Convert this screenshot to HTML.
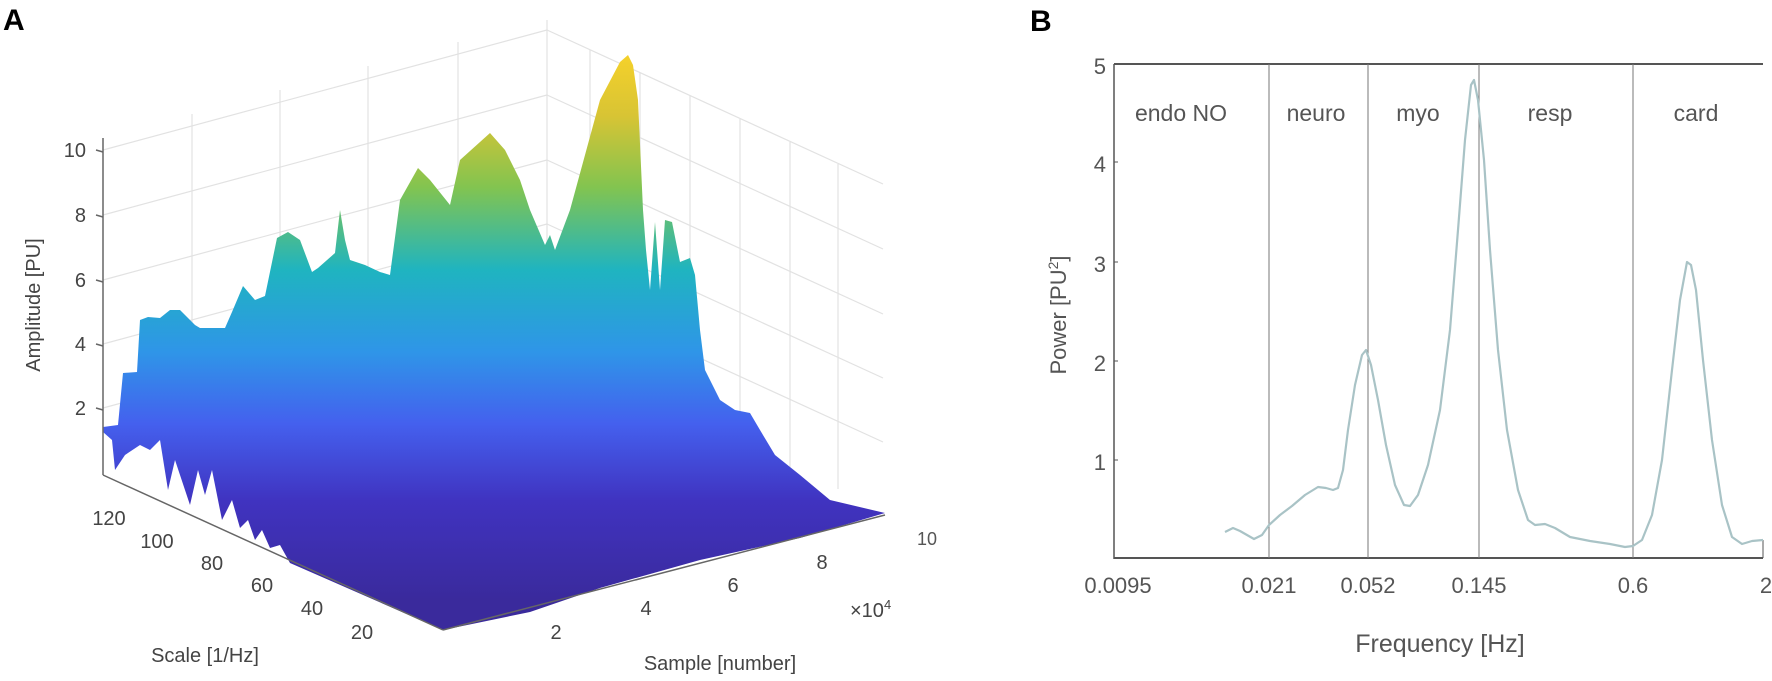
<!DOCTYPE html>
<html><head><meta charset="utf-8"><style>
html,body{margin:0;padding:0;background:#fff;}
svg{display:block;}
text{font-family:"Liberation Sans",sans-serif;}
</style></head><body>
<svg width="1772" height="681" viewBox="0 0 1772 681" xmlns="http://www.w3.org/2000/svg">
<defs>
<linearGradient id="parula" gradientUnits="userSpaceOnUse" x1="0" y1="50" x2="0" y2="600">
<stop offset="0" stop-color="#f7d22a"/>
<stop offset="0.12" stop-color="#d8c434"/>
<stop offset="0.25" stop-color="#82c450"/>
<stop offset="0.4" stop-color="#1fb4c0"/>
<stop offset="0.55" stop-color="#2f95e8"/>
<stop offset="0.68" stop-color="#4460ee"/>
<stop offset="0.82" stop-color="#4033c0"/>
<stop offset="1" stop-color="#3a2a9c"/>
</linearGradient>
</defs>
<!-- Panel A labels -->
<text x="3" y="30" font-size="30" font-weight="bold" fill="#000">A</text>
<!-- back grid left wall -->
<g stroke="#e2e2e2" stroke-width="1.2" fill="none">
<line x1="103" y1="408" x2="547" y2="288"/>
<line x1="103" y1="344" x2="547" y2="224"/>
<line x1="103" y1="280" x2="547" y2="160"/>
<line x1="103" y1="215" x2="547" y2="95"/>
<line x1="103" y1="150" x2="547" y2="30"/>
<line x1="192" y1="451" x2="192" y2="114"/>
<line x1="280" y1="427" x2="280" y2="90"/>
<line x1="368" y1="403" x2="368" y2="66"/>
<line x1="458" y1="379" x2="458" y2="42"/>
<line x1="547" y1="355" x2="547" y2="20"/>
<line x1="547" y1="288" x2="883" y2="442"/>
<line x1="547" y1="224" x2="883" y2="378"/>
<line x1="547" y1="160" x2="883" y2="314"/>
<line x1="547" y1="95" x2="883" y2="249"/>
<line x1="547" y1="30" x2="883" y2="184"/>
<line x1="590" y1="375" x2="590" y2="50"/>
<line x1="640" y1="398" x2="640" y2="73"/>
<line x1="690" y1="421" x2="690" y2="96"/>
<line x1="740" y1="444" x2="740" y2="119"/>
<line x1="790" y1="467" x2="790" y2="142"/>
<line x1="838" y1="489" x2="838" y2="164"/>
</g>
<!-- surface -->
<polygon fill="url(#parula)" points="103,427 118,425 123,373 137,372 140,320 148,317 160,318 170,310 180,310 195,325 200,328 225,328 232,312 243,286 255,300 265,296 277,238 288,232 300,240 312,272 318,268 335,253 340,210 345,240 350,260 365,265 380,272 390,275 400,200 418,168 430,180 450,205 460,160 490,133 505,150 520,180 530,210 545,245 550,235 555,250 570,210 600,100 620,62 628,55 633,65 638,100 643,210 646,250 650,290 655,222 660,290 665,220 672,222 680,262 690,258 695,275 700,330 705,370 720,400 735,410 750,413 760,430 775,455 800,475 830,500 885,513 800,538 700,560 600,588 530,612 443,630 290,563 280,545 270,548 262,530 255,540 248,520 240,528 232,500 222,520 212,470 205,495 198,470 190,505 175,460 168,490 160,440 150,450 140,445 125,455 115,470 112,440 103,432"/>
<!-- axes A -->
<g stroke="#666" stroke-width="1.5" fill="none">
<line x1="103" y1="138" x2="103" y2="475"/>
<line x1="103" y1="475" x2="443" y2="630"/>
<line x1="443" y1="630" x2="885" y2="515"/>
<line x1="96" y1="150" x2="103" y2="152"/><line x1="96" y1="215" x2="103" y2="217"/><line x1="96" y1="280" x2="103" y2="282"/><line x1="96" y1="344" x2="103" y2="346"/><line x1="96" y1="408" x2="103" y2="410"/>
</g>
<g font-size="20" fill="#444" text-anchor="end">
<text x="86" y="157">10</text><text x="86" y="222">8</text><text x="86" y="287">6</text><text x="86" y="351">4</text><text x="86" y="415">2</text>
</g>
<text transform="translate(40,305) rotate(-90)" font-size="20" fill="#444" text-anchor="middle">Amplitude [PU]</text>
<g font-size="20" fill="#444" text-anchor="middle">
<text x="109" y="525">120</text><text x="157" y="548">100</text><text x="212" y="570">80</text><text x="262" y="592">60</text><text x="312" y="615">40</text><text x="362" y="639">20</text>
<text x="205" y="662">Scale [1/Hz]</text>
<text x="556" y="639">2</text><text x="646" y="615">4</text><text x="733" y="592">6</text><text x="822" y="569">8</text>
<text x="720" y="670">Sample [number]</text>
</g>
<text x="850" y="617" font-size="20" fill="#444">×10<tspan font-size="13" dy="-8">4</tspan></text>
<text x="917" y="545" font-size="18" fill="#555">10</text>

<!-- Panel B -->
<text x="1030" y="31" font-size="30" font-weight="bold" fill="#000">B</text>
<g stroke="#555" fill="none">
<line x1="1114" y1="64" x2="1763" y2="64" stroke-width="2"/>
<line x1="1114" y1="64" x2="1114" y2="559" stroke-width="1.5"/>
<line x1="1114" y1="558" x2="1763" y2="558" stroke-width="2"/>
<line x1="1269" y1="64" x2="1269" y2="558" stroke-width="1" stroke="#777"/>
<line x1="1368" y1="64" x2="1368" y2="558" stroke-width="1" stroke="#777"/>
<line x1="1479" y1="64" x2="1479" y2="558" stroke-width="1" stroke="#777"/>
<line x1="1633" y1="64" x2="1633" y2="558" stroke-width="1" stroke="#777"/>
<line x1="1114" y1="162" x2="1118" y2="162"/><line x1="1114" y1="262" x2="1118" y2="262"/><line x1="1114" y1="361" x2="1118" y2="361"/><line x1="1114" y1="460" x2="1118" y2="460"/>
<line x1="1763" y1="540" x2="1763" y2="558"/>
</g>
<g font-size="22" fill="#555" text-anchor="end">
<text x="1106" y="74">5</text><text x="1106" y="172">4</text><text x="1106" y="272">3</text><text x="1106" y="371">2</text><text x="1106" y="470">1</text>
</g>
<text transform="translate(1066,315) rotate(-90)" font-size="22" fill="#555" text-anchor="middle">Power [PU<tspan font-size="14" dy="-8">2</tspan><tspan dy="8">]</tspan></text>
<g font-size="22" fill="#555" text-anchor="middle">
<text x="1118" y="593">0.0095</text><text x="1269" y="593">0.021</text><text x="1368" y="593">0.052</text><text x="1479" y="593">0.145</text><text x="1633" y="593">0.6</text><text x="1766" y="593">2</text>
</g>
<text x="1440" y="652" font-size="25" fill="#555" text-anchor="middle">Frequency [Hz]</text>
<g font-size="23" fill="#555" text-anchor="middle">
<text x="1181" y="121">endo NO</text><text x="1316" y="121">neuro</text><text x="1418" y="121">myo</text><text x="1550" y="121">resp</text><text x="1696" y="121">card</text>
</g>
<polyline fill="none" stroke="#a9c3c6" stroke-width="2.2" stroke-linejoin="round" points="1225,532 1233,528 1240,531 1254,539 1262,535 1269,525 1280,515 1292,506 1305,495 1318,487 1326,488 1333,490 1338,488 1343,470 1348,430 1355,385 1362,355 1366,350 1371,365 1378,400 1386,445 1395,485 1404,505 1410,506 1418,495 1428,465 1440,410 1450,330 1458,230 1465,140 1471,85 1474,80 1478,100 1484,160 1490,250 1498,350 1507,430 1518,490 1528,520 1535,525 1545,524 1555,528 1570,537 1590,541 1610,544 1625,547 1633,546 1642,540 1652,515 1662,460 1672,370 1680,300 1687,262 1691,265 1696,290 1703,360 1712,440 1722,505 1732,537 1742,544 1752,541 1763,540"/>
</svg>
</body></html>
